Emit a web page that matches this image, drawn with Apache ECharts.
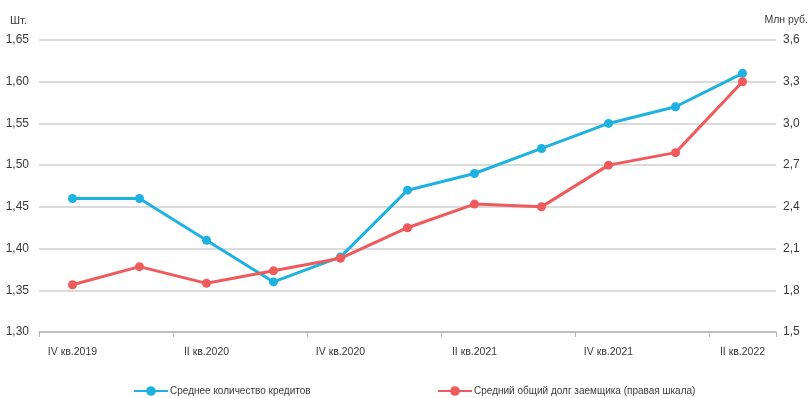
<!DOCTYPE html>
<html>
<head>
<meta charset="utf-8">
<script src="https://cdn.jsdelivr.net/npm/echarts@6/dist/echarts.min.js"></script>
<style>
  html, body { margin: 0; padding: 0; background: #fff; }
  #chart { width: 812px; height: 398px; }
</style>
</head>
<body>
<div id="chart"></div>
<script>
// Quarters shown along the horizontal axis
const quarters = ['IV кв.2019', 'I кв.2020', 'II кв.2020', 'III кв.2020', 'IV кв.2020',
  'I кв.2021', 'II кв.2021', 'III кв.2021', 'IV кв.2021', 'I кв.2022', 'II кв.2022'];

// Average number of loans per borrower, units (left axis)
const avgLoans = [1.46, 1.46, 1.41, 1.36, 1.39, 1.47, 1.49, 1.52, 1.55, 1.57, 1.61];

// Average total borrower debt, mln rub (right axis)
const avgDebt = [1.84, 1.97, 1.85, 1.94, 2.03, 2.25, 2.42, 2.40, 2.70, 2.79, 3.30];

const seriesNames = ['Среднее количество кредитов', 'Средний общий долг заемщика (правая шкала)'];
const leftUnit = 'Шт.';
const rightUnit = 'Млн руб.';

const FONT = '"Liberation Sans", Arial, sans-serif';
const TEXT = '#3a3a3a';
const BLUE = '#1eb2e0';
const RED = '#ef5a5c';

const fmt = (d) => (v) => v.toFixed(d).replace('.', ',');
const txt = (size, extra) => Object.assign({ fontFamily: FONT, fontSize: size, color: TEXT }, extra || {});

const chart = echarts.init(document.getElementById('chart'), null, { renderer: 'canvas' });

chart.setOption({
  animation: false,
  backgroundColor: '#ffffff',
  textStyle: { fontFamily: FONT, color: TEXT },
  grid: { left: 39, right: 36, top: 40, bottom: 66, containLabel: false },
  legend: [
    {
      data: [seriesNames[0]],
      left: 128, top: 381,
      itemWidth: 34, itemHeight: 12, itemGap: 0,
      textStyle: txt(10, { padding: [0, 0, 0, -3] })
    },
    {
      data: [seriesNames[1]],
      left: 432, top: 381,
      itemWidth: 34, itemHeight: 12, itemGap: 0,
      textStyle: txt(10, { padding: [0, 0, 0, -3] })
    }
  ],
  xAxis: {
    type: 'category',
    data: quarters,
    boundaryGap: true,
    axisLine: { lineStyle: { color: '#b5b5b5', width: 1.5 } },
    axisTick: { show: true, length: 5, lineStyle: { color: '#b5b5b5' } },
    axisLabel: Object.assign({ interval: 1, margin: 15 }, txt(10.5)),
    splitLine: { show: false }
  },
  yAxis: [
    {
      type: 'value',
      min: 1.30, max: 1.65, interval: 0.05,
      name: leftUnit,
      nameLocation: 'end',
      nameGap: 14,
      nameTextStyle: txt(11, { align: 'left', padding: [0, 0, 0, -29] }),
      axisLine: { show: false },
      axisTick: { show: false },
      axisLabel: Object.assign({ formatter: fmt(2), margin: 10 }, txt(12)),
      splitLine: { lineStyle: { color: '#cfcfcf', width: 1.5 } }
    },
    {
      type: 'value',
      min: 1.5, max: 3.6, interval: 0.3,
      name: rightUnit,
      nameLocation: 'end',
      nameGap: 14,
      nameTextStyle: txt(10.5, { align: 'right', padding: [0, -32, 0, 0] }),
      axisLine: { show: false },
      axisTick: { show: false },
      axisLabel: Object.assign({ formatter: fmt(1), margin: 7 }, txt(12)),
      splitLine: { show: false }
    }
  ],
  series: [
    {
      name: seriesNames[0],
      type: 'line',
      yAxisIndex: 0,
      data: avgLoans,
      symbol: 'circle',
      symbolSize: 9,
      lineStyle: { color: BLUE, width: 3 },
      itemStyle: { color: BLUE },
      z: 3
    },
    {
      name: seriesNames[1],
      type: 'line',
      yAxisIndex: 1,
      data: avgDebt,
      symbol: 'circle',
      symbolSize: 9,
      lineStyle: { color: RED, width: 3 },
      itemStyle: { color: RED },
      z: 4
    }
  ]
});
</script>
</body>
</html>
